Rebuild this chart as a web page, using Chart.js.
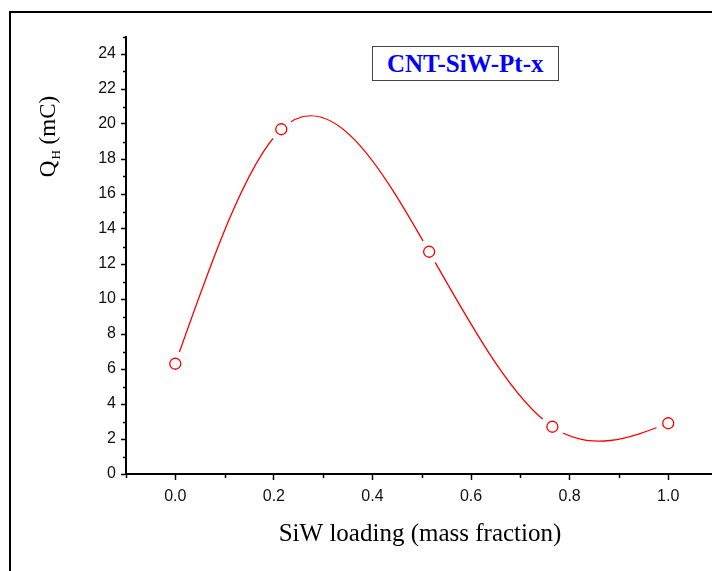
<!DOCTYPE html>
<html>
<head>
<meta charset="utf-8">
<script src="https://cdn.jsdelivr.net/npm/chart.js@4.4.1/dist/chart.umd.min.js"></script>
<style>
    html, body { margin: 0; padding: 0; overflow: hidden; background: #fff; }
    #wrap { position: relative; width: 712px; height: 571px; overflow: hidden; }
    #frame {
        position: absolute; left: 9px; top: 11px; width: 900px; height: 800px;
        border-left: 2px solid #000; border-top: 2px solid #000;
    }
    #qh-chart { position: absolute; left: 0; top: 0; }
    #series-box {
        position: absolute; left: 372px; top: 46px; width: 171px; height: 33px;
        border: 1.5px solid #444; background: #fff;
        font: bold 25px "Liberation Serif", "Times New Roman", serif; color: #0000ff;
        line-height: 33px; text-align: left; padding-left: 14px; white-space: nowrap;
    }
</style>
</head>
<body>
<div id="wrap">
    <div id="frame"></div>
    <canvas id="qh-chart" width="740" height="571" style="width:740px;height:571px"></canvas>
    <div id="series-box">CNT-SiW-Pt-x</div>
</div>
<script>
// SiW loading (mass fraction) and hydrogen charge Q_H (mC)
const siwLoading = [0.0, 0.215, 0.515, 0.765, 1.0];
const chargeQH = [6.3, 19.7, 12.7, 2.7, 2.9];

const xTickValues = [0.0, 0.2, 0.4, 0.6, 0.8, 1.0];
const yTickValues = [0, 2, 4, 6, 8, 10, 12, 14, 16, 18, 20, 22, 24];

const RED = '#ff0000';
const points = siwLoading.map((x, i) => ({ x: x, y: chargeQH[i] }));

/**
 * natural cubic spline slopes at each data point (dy/dx)
 * */
const splineSlopes = (xs, ys) => {
    const n = xs.length;
    const h = [], s = [];
    for (let i = 0; i < n - 1; i++) {
        h.push(xs[i + 1] - xs[i]);
        s.push((ys[i + 1] - ys[i]) / h[i]);
    }
    // tridiagonal solve for second derivatives, M0 = Mn = 0
    const M = new Array(n).fill(0);
    const a = [], b = [], c = [], d = [];
    for (let i = 1; i < n - 1; i++) {
        a.push(h[i - 1]);
        b.push(2 * (h[i - 1] + h[i]));
        c.push(h[i]);
        d.push(6 * (s[i] - s[i - 1]));
    }
    const m = b.length;
    for (let i = 1; i < m; i++) {
        const w = a[i] / b[i - 1];
        b[i] -= w * c[i - 1];
        d[i] -= w * d[i - 1];
    }
    const sol = new Array(m);
    sol[m - 1] = d[m - 1] / b[m - 1];
    for (let i = m - 2; i >= 0; i--) sol[i] = (d[i] - c[i] * sol[i + 1]) / b[i];
    for (let i = 0; i < m; i++) M[i + 1] = sol[i];

    const slopes = [];
    for (let i = 0; i < n - 1; i++) slopes.push(s[i] - h[i] * (2 * M[i] + M[i + 1]) / 6);
    slopes.push(s[n - 2] + h[n - 2] * (M[n - 2] + 2 * M[n - 1]) / 6);
    return slopes;
};

/**
 * put the spline's bezier handles on the line's points
 * */
const splineLine = {
    id: 'splineLine',
    beforeDatasetDraw: (chart, args) => {
        if (args.index !== 2) return;
        const xs = chart.scales.x;
        const ys = chart.scales.y;
        const els = args.meta.data;
        const slopes = splineSlopes(siwLoading, chargeQH);
        const n = siwLoading.length;
        for (let i = 0; i < n; i++) {
            const el = els[i];
            if (i > 0) {
                const hb = (siwLoading[i] - siwLoading[i - 1]) / 3;
                el.cp1x = xs.getPixelForValue(siwLoading[i] - hb);
                el.cp1y = ys.getPixelForValue(chargeQH[i] - slopes[i] * hb);
            } else {
                el.cp1x = el.x; el.cp1y = el.y;
            }
            if (i < n - 1) {
                const ha = (siwLoading[i + 1] - siwLoading[i]) / 3;
                el.cp2x = xs.getPixelForValue(siwLoading[i] + ha);
                el.cp2y = ys.getPixelForValue(chargeQH[i] + slopes[i] * ha);
            } else {
                el.cp2x = el.x; el.cp2y = el.y;
            }
        }
        args.meta.dataset._pointsUpdated = true;
        args.meta.dataset._path = undefined;
    }
};

/**
 * minor ticks + axis titles (Q with subscript H)
 * */
const axisExtras = {
    id: 'axisExtras',
    afterDraw: (chart) => {
        const ctx = chart.ctx;
        const xs = chart.scales.x;
        const ys = chart.scales.y;
        const area = chart.chartArea;
        ctx.save();
        ctx.strokeStyle = '#000';
        ctx.lineWidth = 1.5;
        ctx.beginPath();
        for (let i = -1; i <= 11; i += 2) {
            const px = Math.round(xs.getPixelForValue(i / 10)) + 0.5;
            ctx.moveTo(px, area.bottom);
            ctx.lineTo(px, area.bottom + 4);
        }
        for (let v = 1; v <= 25; v += 2) {
            const py = Math.round(ys.getPixelForValue(v)) + 0.5;
            ctx.moveTo(area.left, py);
            ctx.lineTo(area.left - 3, py);
        }
        ctx.stroke();

        // x title
        ctx.fillStyle = '#000';
        ctx.font = '25px "Liberation Serif", "Times New Roman", serif';
        ctx.textAlign = 'center';
        ctx.textBaseline = 'middle';
        ctx.fillText('SiW loading (mass fraction)', 420, 534);

        // y title, rotated
        ctx.translate(47, 137);
        ctx.rotate(-Math.PI / 2);
        ctx.textAlign = 'left';
        ctx.textBaseline = 'alphabetic';
        const big = '23px "Liberation Serif", "Times New Roman", serif';
        const small = '13px "Liberation Serif", "Times New Roman", serif';
        ctx.font = big;
        const wQ = ctx.measureText('Q').width;
        const wRest = ctx.measureText(' (mC)').width;
        ctx.font = small;
        const wH = ctx.measureText('H').width;
        let x0 = -(wQ + wH + wRest) / 2;
        ctx.font = big;
        ctx.fillText('Q', x0, 8);
        ctx.font = small;
        ctx.fillText('H', x0 + wQ + 1, 13);
        ctx.font = big;
        ctx.fillText(' (mC)', x0 + wQ + wH + 1, 8);
        ctx.restore();
    }
};

const tickFont = { family: '"Liberation Sans", Arial, sans-serif', size: 16 };

new Chart(document.getElementById('qh-chart'), {
    type: 'scatter',
    data: {
        datasets: [
            {
                // hollow circle markers
                data: points,
                showLine: false,
                pointRadius: 5.5,
                pointBorderWidth: 1.3,
                pointBorderColor: RED,
                pointBackgroundColor: '#fff',
                order: 0
            },
            {
                // white gap around each marker
                data: points,
                showLine: false,
                pointRadius: 12.5,
                pointBorderWidth: 0,
                pointBorderColor: '#fff',
                pointBackgroundColor: '#fff',
                order: 1
            },
            {
                // spline through the points
                data: points,
                showLine: true,
                tension: 0.4,
                borderColor: RED,
                borderWidth: 1.3,
                pointRadius: 0,
                order: 2
            }
        ]
    },
    options: {
        responsive: false,
        animation: false,
        layout: { padding: { top: 36.5, right: 22.5, left: 0, bottom: 0 } },
        plugins: {
            legend: { display: false },
            tooltip: { enabled: false }
        },
        scales: {
            x: {
                type: 'linear',
                min: -0.1,
                max: 1.1,
                afterBuildTicks: (scale) => { scale.ticks = xTickValues.map(v => ({ value: v })); },
                afterFit: (scale) => { scale.height = 97; },
                grid: { drawOnChartArea: false, tickLength: 6, tickWidth: 1.5, tickColor: '#000' },
                border: { display: true, color: '#000', width: 2 },
                ticks: {
                    font: tickFont,
                    color: '#111',
                    padding: 7,
                    maxRotation: 0,
                    callback: (v) => Number(v).toFixed(1)
                }
            },
            y: {
                type: 'linear',
                min: 0,
                max: 25,
                afterBuildTicks: (scale) => { scale.ticks = yTickValues.map(v => ({ value: v })); },
                afterFit: (scale) => { scale.width = 126; },
                grid: { drawOnChartArea: false, tickLength: 5, tickWidth: 1.5, tickColor: '#000' },
                border: { display: true, color: '#000', width: 2 },
                ticks: {
                    font: tickFont,
                    color: '#111',
                    padding: 5,
                    callback: (v) => String(v)
                }
            }
        }
    },
    plugins: [splineLine, axisExtras]
});
</script>
</body>
</html>
